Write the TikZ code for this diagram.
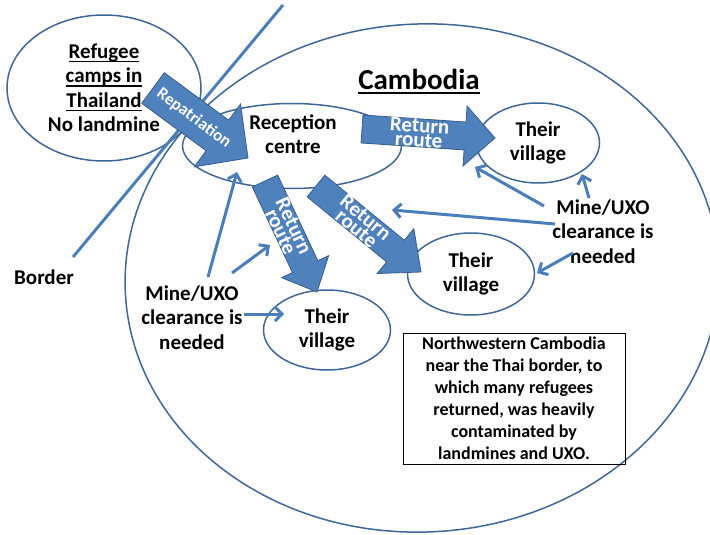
\documentclass[tikz,border=0pt]{standalone}
\usepackage{fontspec}
\setmainfont{Carlito}
\usetikzlibrary{calc,shapes.geometric,arrows.meta}

\definecolor{ovalblue}{HTML}{3E6797}
\definecolor{lineblue}{HTML}{4A7EBB}
\definecolor{fillblue}{HTML}{4F81BD}
\definecolor{edgeblue}{HTML}{385D8A}

% underline at a fixed depth below the baseline, crossing descenders
\newcommand\ulin[1]{\setbox0\hbox{#1}\rlap{\rule[-0.17em]{\wd0}{0.07em}}\box0}

% block arrow: name, tail, tip, half shaft width, half head width, head length, label
\newcommand\blockarrow[7]{%
  \coordinate (#1-h) at ($(#3)!#6!(#2)$);
  \draw[blockarr] ($(#2)!#4!90:(#3)$) -- ($(#1-h)!#4!90:(#3)$)
    -- ($(#1-h)!#5!90:(#3)$) -- (#3) -- ($(#1-h)!#5!-90:(#3)$)
    -- ($(#1-h)!#4!-90:(#3)$) -- ($(#2)!#4!-90:(#3)$) -- cycle;
  \path (#2) -- (#3) node[pos=0.43, sloped, arrowlabel] (#1-l) {#7};
}

\begin{document}
\begin{tikzpicture}[x=1pt,y=-1pt,
  oval/.style={ellipse, draw=ovalblue, line width=1.5pt, inner sep=0pt, align=center},
  txt/.style={align=center, inner sep=0pt, font=\fontsize{21}{24.5}\selectfont\bfseries},
  thinarrow/.style={draw=lineblue, line width=3pt, -{Straight Barb[length=7pt,width=14pt]}},
  borderline/.style={draw=lineblue, line width=3pt},
  blockarr/.style={fill=fillblue, draw=edgeblue, line width=0.8pt, line join=miter},
  arrowlabel/.style={text=white, align=center, inner sep=0pt, font=\fontsize{21}{13}\selectfont\bfseries},
  notebox/.style={draw=black, line width=0.8pt, align=center, inner sep=0pt,
    minimum width=222pt, minimum height=131pt, font=\fontsize{18}{22}\selectfont\bfseries},
]
\useasboundingbox (0,0) rectangle (710,535);

% regions
\node[oval, rotate=3, minimum width=594pt, minimum height=508pt] (kh) at (422,278) {};
\node[oval, txt, minimum width=194pt, minimum height=146pt] (camps) at (104,88)
  {\ulin{Refugee}\\\ulin{camps in}\\\ulin{Thailand}\\No landmine};
\node[oval, minimum width=219pt, minimum height=85pt] (rc) at (292,146) {};
\node[oval, txt, minimum width=123pt, minimum height=80pt] (v1) at (538,143) {Their\\village};
\node[oval, txt, minimum width=127pt, minimum height=82pt] (v2) at (471,274) {Their\\village};
\node[oval, txt, minimum width=127pt, minimum height=80pt] (v3) at (327,330) {Their\\village};

% border line
\coordinate (b1) at (283,5);
\coordinate (b2) at (73,257);
\draw[borderline] (b1) -- (b2);

% labels
\node[txt, font=\fontsize{29}{34}\selectfont\bfseries] (khl) at (419,81.5) {\ulin{Cambodia}};
\node[txt] (rct) at (293,134) {Reception\\centre};
\node[txt] (border) at (44,277) {Border};
\node[txt] (mineL) at (192,317.5) {Mine/UXO\\clearance is\\needed};
\node[txt] (mineR) at (603,231.5) {Mine/UXO\\clearance is\\needed};
\node[notebox] (note) at (514,398.5) {Northwestern Cambodia\\near the Thai border, to\\which many refugees\\returned, was heavily\\contaminated by\\landmines and UXO.};

% clearance pointers
\coordinate (m1s) at (208,277); \coordinate (m1e) at (237,172);
\coordinate (m2s) at (232,273); \coordinate (m2e) at (270,245);
\coordinate (m3s) at (244,314); \coordinate (m3e) at (284,314);
\coordinate (m4s) at (544,206); \coordinate (m4e) at (475,167);
\coordinate (m5s) at (589,198); \coordinate (m5e) at (582,174);
\coordinate (m6s) at (555,224); \coordinate (m6e) at (392,210);
\coordinate (m7s) at (573,253); \coordinate (m7e) at (537,273);
\foreach \i in {1,...,7} { \draw[thinarrow] (m\i s) -- (m\i e); }

% routes
\coordinate (rp-t) at (153,88);  \coordinate (rp-e) at (248,158);
\coordinate (ra-t) at (362,129); \coordinate (ra-e) at (495,138);
\coordinate (rb-t) at (265,181); \coordinate (rb-e) at (317,292);
\coordinate (rd-t) at (316,186); \coordinate (rd-e) at (421,272);
\blockarrow{rp}{rp-t}{rp-e}{19pt}{39pt}{38pt}{\fontsize{17}{17}\selectfont Repatriation}
\blockarrow{ra}{ra-t}{ra-e}{14pt}{30pt}{30pt}{Return\\route}
\blockarrow{rb}{rb-t}{rb-e}{14pt}{26pt}{28pt}{Return\\route}
\blockarrow{rd}{rd-t}{rd-e}{14pt}{29pt}{33pt}{Return\\route}
\end{tikzpicture}
\end{document}
